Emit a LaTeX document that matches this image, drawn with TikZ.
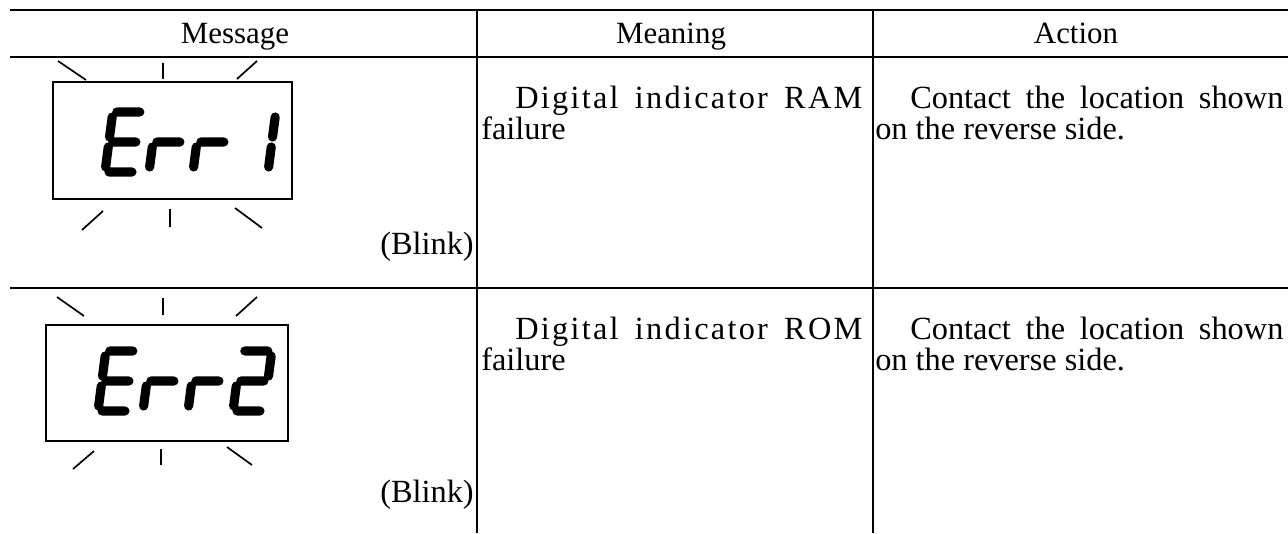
\documentclass[tikz,border=0pt]{standalone}
\usepackage{fontspec}
\setmainfont{Liberation Serif}

% segments of one display digit, corner (0,0) bottom left
\newcommand\segA{(4,60) -- (27,60)}
\newcommand\segB{(31,55) -- (31,35)}
\newcommand\segC{(31,25) -- (31,5)}
\newcommand\segD{(4,0) -- (27,0)}
\newcommand\segE{(0,25) -- (0,5)}
\newcommand\segF{(0,55) -- (0,35)}
\newcommand\segG{(4,30) -- (27,30)}

% one slanted digit at (#1,#2)
\newcommand\lcdglyph[3]{%
  \begin{scope}[shift={(#1,#2)}, x=0.025cm, y=0.025cm, xslant=0.13]
    \draw[lcdseg] #3;
  \end{scope}}

\tikzset{
  rule/.style={line width=1.3pt},
  ray/.style={line width=1.2pt},
  lcdbox/.style={line width=1.1pt},
  lcdseg/.style={line width=6.5pt, line cap=round},
  head/.style={inner sep=0pt, font=\fontsize{22}{25}\selectfont},
  cell/.style={inner sep=0pt, font=\fontsize{23}{26}\selectfont}
}

\begin{document}
\begin{tikzpicture}[x=0.025cm, y=-0.025cm]
  \useasboundingbox (0,0) rectangle (1288,533);

  % table rules
  \draw[rule] (10,10) -- (1288,10);
  \draw[rule] (10,57) -- (1288,57);
  \draw[rule] (10,288) -- (1288,288);
  \draw[rule] (477,10) -- (477,533);
  \draw[rule] (873,10) -- (873,533);

  % header
  \node[head, anchor=base] (hdmsg) at (235,43) {Message};
  \node[head, anchor=base] (hdmean) at (671,43) {Meaning};
  \node[head, anchor=base] (hdact) at (1076,43) {Action};

  % Err 1
  \draw[lcdbox] (53,82) rectangle (292,199);
  \draw[ray] (58,61) -- (86,80);
  \draw[ray] (163,63) -- (163,79);
  \draw[ray] (257,61) -- (237,79);
  \draw[ray] (103,211) -- (82,230);
  \draw[ray] (170,209) -- (170,227);
  \draw[ray] (235,208) -- (262,228);
  \lcdglyph{105}{172}{\segA \segD \segE \segF \segG}
  \lcdglyph{149}{172}{\segE \segG}
  \lcdglyph{193}{172}{\segE \segG}
  \lcdglyph{237}{172}{\segB \segC}
  \node[cell, anchor=base east] (blink1) at (474,254) {(Blink)};

  \node[cell, anchor=base west] (mean1) at (515,108)
    {\makebox[8.675cm][s]{\addfontfeature{LetterSpace=7}Digital indicator RAM}};
  \node[cell, anchor=base west] (mean1b) at (481,139) {failure};
  \node[cell, anchor=base west] (act1) at (910,108)
    {\makebox[9.325cm][s]{Contact the location shown}};
  \node[cell, anchor=base west] (act1b) at (875,139) {on the reverse side.};

  % Err 2
  \draw[lcdbox] (46,325) rectangle (288,441);
  \draw[ray] (57,297) -- (84,316);
  \draw[ray] (163,298) -- (163,315);
  \draw[ray] (257,297) -- (236,316);
  \draw[ray] (94,451) -- (73,469);
  \draw[ray] (161,449) -- (161,465);
  \draw[ray] (227,447) -- (252,465);
  \lcdglyph{98}{411}{\segA \segD \segE \segF \segG}
  \lcdglyph{143}{411}{\segE \segG}
  \lcdglyph{188}{411}{\segE \segG}
  \lcdglyph{233}{411}{\segA \segB \segG \segE \segD}
  \node[cell, anchor=base east] (blink2) at (474,502) {(Blink)};

  \node[cell, anchor=base west] (mean2) at (515,339)
    {\makebox[8.675cm][s]{\addfontfeature{LetterSpace=7}Digital indicator ROM}};
  \node[cell, anchor=base west] (mean2b) at (481,370) {failure};
  \node[cell, anchor=base west] (act2) at (910,339)
    {\makebox[9.325cm][s]{Contact the location shown}};
  \node[cell, anchor=base west] (act2b) at (875,370) {on the reverse side.};
\end{tikzpicture}
\end{document}
